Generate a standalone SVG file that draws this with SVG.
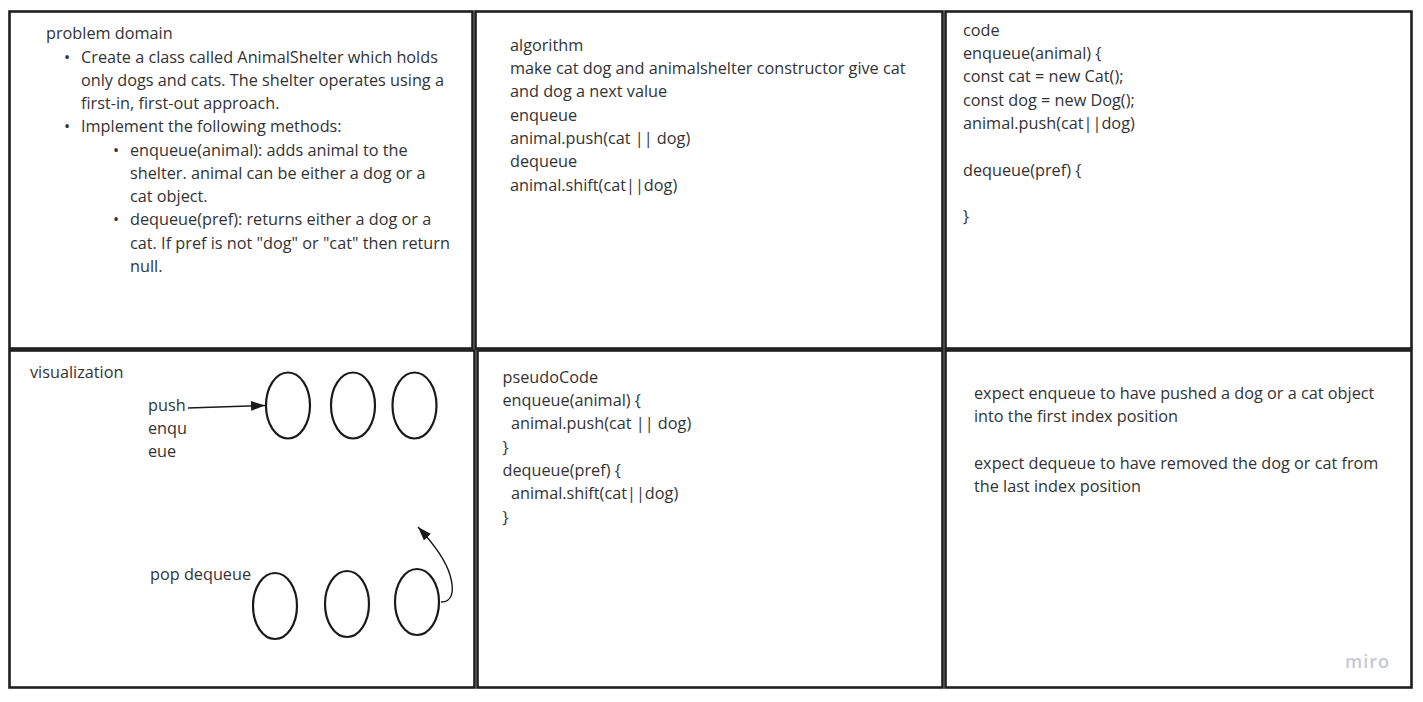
<svg xmlns="http://www.w3.org/2000/svg" width="1423" height="702" viewBox="0 0 1423 702">
<style>
.frame{fill:#fff;stroke:#1e1e1e;stroke-width:2.6}
.t{font-family:"Open Sans","Noto Sans","Liberation Sans",sans-serif;font-size:16.25px;fill:#333}
.el{fill:none;stroke:#1a1a1a;stroke-width:2.2}
.con{fill:none;stroke:#1a1a1a;stroke-width:1.4}
.logo{font-family:"Open Sans","Noto Sans","Liberation Sans",sans-serif;font-size:18px;font-weight:600;fill:#c5c8d6;letter-spacing:1px}
</style>
<defs>
<marker id="ah2" viewBox="0 0 10 10" refX="10" refY="5" markerWidth="14" markerHeight="14" markerUnits="userSpaceOnUse" orient="auto">
<path d="M0,1.5 L10,5 L0,8.5 z" fill="#1a1a1a"/>
</marker>
</defs>
<rect width="1423" height="702" fill="#fff"/>

<g id="problem-domain">
<rect class="frame" x="9.5" y="11.5" width="463" height="337"/>
<text class="t" x="46" y="39">problem domain</text>
<text class="t" x="64" y="62.5">•</text>
<text class="t" x="81" y="62.5">Create a class called AnimalShelter which holds</text>
<text class="t" x="81" y="85.8">only dogs and cats. The shelter operates using a</text>
<text class="t" x="81" y="109">first-in, first-out approach.</text>
<text class="t" x="64" y="132.3">•</text>
<text class="t" x="81" y="132.3">Implement the following methods:</text>
<text class="t" x="113" y="155.5">•</text>
<text class="t" x="130" y="155.5">enqueue(animal): adds animal to the</text>
<text class="t" x="130" y="178.8">shelter. animal can be either a dog or a</text>
<text class="t" x="130" y="202">cat object.</text>
<text class="t" x="113" y="225.3">•</text>
<text class="t" x="130" y="225.3">dequeue(pref): returns either a dog or a</text>
<text class="t" x="130" y="248.6">cat. If pref is not "dog" or "cat" then return</text>
<text class="t" x="130" y="271.8">null.</text>
</g>

<g id="algorithm">
<rect class="frame" x="475.5" y="11.5" width="467" height="337"/>
<text class="t" x="510" y="50.7">algorithm</text>
<text class="t" x="510" y="74">make cat dog and animalshelter constructor give cat</text>
<text class="t" x="510" y="97.3">and dog a next value</text>
<text class="t" x="510" y="120.6">enqueue</text>
<text class="t" x="510" y="143.9">animal.push(cat || dog)</text>
<text class="t" x="510" y="167.2">dequeue</text>
<text class="t" x="510" y="190.5">animal.shift(cat||dog)</text>
</g>

<g id="code">
<rect class="frame" x="945.5" y="11.5" width="466" height="337"/>
<text class="t" x="963" y="35.7">code</text>
<text class="t" x="963" y="59">enqueue(animal) {</text>
<text class="t" x="963" y="82.3">const cat = new Cat();</text>
<text class="t" x="963" y="105.6">const dog = new Dog();</text>
<text class="t" x="963" y="128.9">animal.push(cat||dog)</text>
<text class="t" x="963" y="175.5">dequeue(pref) {</text>
<text class="t" x="963" y="222">}</text>
</g>

<g id="visualization">
<rect class="frame" x="9.5" y="350.5" width="465" height="337"/>
<text class="t" x="30" y="378.3">visualization</text>
<text class="t" x="148" y="410.7">push</text>
<text class="t" x="148" y="434">enqu</text>
<text class="t" x="148" y="457.3">eue</text>
<text class="t" x="150" y="580">pop dequeue</text>
</g>

<g id="queue-top-1"><ellipse class="el" cx="288" cy="405.5" rx="22" ry="33"/></g>
<g id="queue-top-2"><ellipse class="el" cx="353" cy="405.5" rx="22" ry="33"/></g>
<g id="queue-top-3"><ellipse class="el" cx="414.5" cy="405.5" rx="22" ry="33"/></g>
<g id="queue-bottom-1"><ellipse class="el" cx="275" cy="606" rx="22" ry="33"/></g>
<g id="queue-bottom-2"><ellipse class="el" cx="347" cy="604" rx="22" ry="33"/></g>
<g id="queue-bottom-3"><ellipse class="el" cx="417" cy="602" rx="22" ry="33"/></g>

<g id="pseudocode">
<rect class="frame" x="477.5" y="350.5" width="465" height="337"/>
<text class="t" x="502.5" y="382.7">pseudoCode</text>
<text class="t" x="502.5" y="406">enqueue(animal) {</text>
<text class="t" x="511" y="429.3">animal.push(cat || dog)</text>
<text class="t" x="502.5" y="452.6">}</text>
<text class="t" x="502.5" y="475.9">dequeue(pref) {</text>
<text class="t" x="511" y="499.2">animal.shift(cat||dog)</text>
<text class="t" x="502.5" y="522.5">}</text>
</g>

<g id="tests">
<rect class="frame" x="945.5" y="350.5" width="466" height="337"/>
<text class="t" x="974" y="398.7">expect enqueue to have pushed a dog or a cat object</text>
<text class="t" x="974" y="422">into the first index position</text>
<text class="t" x="974" y="468.6">expect dequeue to have removed the dog or cat from</text>
<text class="t" x="974" y="491.9">the last index position</text>
<text class="logo" x="1345" y="668">miro</text>
</g>

<g id="connectors">
<path class="con" d="M188,408 L265,405.5" marker-end="url(#ah2)"/>
<path class="con" d="M441,602 C452,602 455,592 450,575 C445,558 432,542 418,527" marker-end="url(#ah2)"/>
</g>
</svg>
